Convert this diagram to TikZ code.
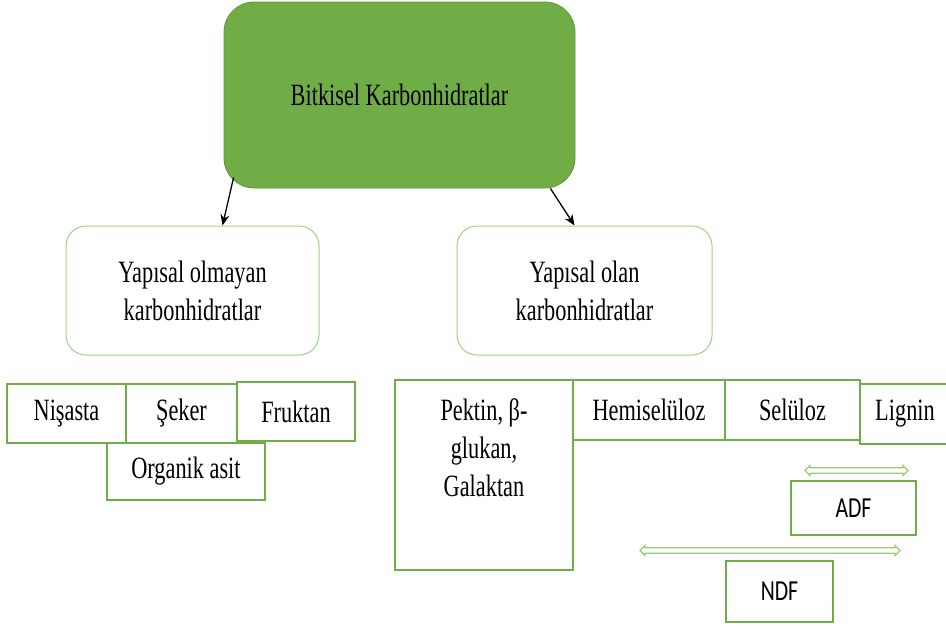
\documentclass[tikz,border=0pt]{standalone}
\usepackage{fontspec}
\setmainfont{Liberation Serif}[FakeStretch=0.72]
\newfontfamily\fibrefont{Carlito}[FakeStretch=0.75]
\usetikzlibrary{positioning,arrows.meta}

\definecolor{leafgreen}{HTML}{70AD47}
\definecolor{rimgreen}{HTML}{5E9A3A}
\definecolor{palegreen}{HTML}{9BD27A}

\tikzset{
  topbox/.style={draw=rimgreen, fill=leafgreen, rounded corners=30pt, line width=0.8pt,
    minimum width=351pt, minimum height=186pt},
  groupbox/.style={draw=palegreen, rounded corners=20pt, line width=1pt,
    minimum height=129pt, align=center},
  itembox/.style={draw=leafgreen, line width=1.4pt, inner sep=0pt, align=center},
  fibrebox/.style={itembox, font=\fibrefont\fontsize{29}{34}\selectfont},
  spanarrow/.style={draw=palegreen!90!leafgreen, line width=1.2pt, fill=white},
  link/.style={-{Stealth[length=11pt,width=9pt]}, line width=1.3pt, black},
}

\begin{document}
\begin{tikzpicture}[x=1pt,y=-1pt,font=\fontsize{31}{38}\selectfont]
    \useasboundingbox (0,0) rectangle (946,630);

    \node[topbox] (main) at (399.5,95) {Bitkisel Karbonhidratlar};
    \node[groupbox, minimum width=253pt] (nonstr) at (192.5,290.5) {Yapısal olmayan\\karbonhidratlar};
    \node[groupbox, minimum width=255pt] (str) at (584.5,290.5) {Yapısal olan\\karbonhidratlar};

    \draw[link] ([xshift=10pt,yshift=11pt]main.south west) -- ([xshift=30pt]nonstr.north);
    \draw[link] ([xshift=-25pt]main.south east) -- ([xshift=-10pt]str.north);

    % yapisal olmayan
    \node[itembox, minimum width=119pt, minimum height=59pt] (nisasta) at (66.5,413.5) {Nişasta};
    \node[itembox, minimum width=111pt, minimum height=59pt] (seker) at (181.5,413.5) {Şeker};
    \node[itembox, minimum width=118pt, minimum height=59pt] (fruktan) at (296,411.5) {Fruktan};
    \node[itembox, minimum width=158pt, minimum height=57pt] (organik) at (186,471.5) {Organik asit};

    % yapisal olan
    \node[itembox, minimum width=178pt, minimum height=190pt] (pektin) at (484,475) {};
    \node[align=center] (pektintxt) at ([yshift=27pt]pektin.center) {Pektin, β-\\glukan,\\Galaktan};
    \node[itembox, minimum width=152pt, minimum height=60pt] (hemi) at (649,410) {Hemiselüloz};
    \node[itembox, minimum width=135pt, minimum height=60pt] (selu) at (792.5,410) {Selüloz};
    \node[itembox, minimum width=90pt, minimum height=60pt] (lignin) at (905,414) {Lignin};

    \foreach \a/\b/\y in {805/908/470.5, 640/900/550.5}
        \filldraw[spanarrow] (\a,\y) -- ({\a+5},{\y-5}) -- ({\a+5},{\y-2.8}) -- ({\b-5},{\y-2.8})
            -- ({\b-5},{\y-5}) -- (\b,\y) -- ({\b-5},{\y+5}) -- ({\b-5},{\y+2.8})
            -- ({\a+5},{\y+2.8}) -- ({\a+5},{\y+5}) -- cycle;

    \node[fibrebox, minimum width=125pt, minimum height=54pt] (adf) at (853.5,508) {ADF};
    \node[fibrebox, minimum width=107pt, minimum height=61pt] (ndf) at (779.5,591.5) {NDF};
\end{tikzpicture}
\end{document}
